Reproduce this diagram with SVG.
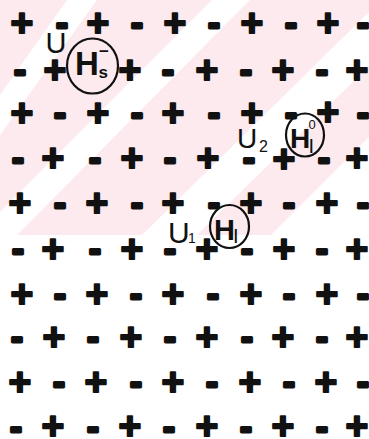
<svg xmlns="http://www.w3.org/2000/svg" width="369" height="439" viewBox="0 0 369 439">
<style>
  .bg { fill: #fdeaee; }
  .wb { fill: #ffffff; }
  .p, .m { font-family: "Liberation Sans", Arial, sans-serif; font-weight: bold; text-anchor: middle; fill: #111; stroke: #111; stroke-linejoin: round; }
  .p { font-size: 39px; stroke-width: 2px; }
  .m { font-size: 36px; stroke-width: 3px; }
  .ring { fill: none; stroke: #111; stroke-width: 2.2; }
  .hb { font-family: "Liberation Sans", Arial, sans-serif; font-weight: bold; fill: #111; }
  .lb { font-family: "Liberation Sans", Arial, sans-serif; fill: #111; }
</style>
<rect width="369" height="439" fill="#ffffff"/>
<g id="background">
  <polygon class="bg" points="0,0 369,0 369,137 271,235 0,235"/>
  <polygon class="wb" points="67,0 97,0 0,135 0,95"/>
  <polygon class="wb" points="212,0 250,0 17,235 0,235 0,212"/>
  <polygon class="wb" points="369,12 369,66 197,235 142,235"/>
</g>
<g id="charges">
  <!-- row 1 (Y=22) -->
  <text class="p" x="22" y="36">+</text><text class="m" x="62" y="34.5">-</text><text class="p" x="98" y="36">+</text><text class="m" x="137" y="34.5">-</text><text class="p" x="175" y="36">+</text><text class="m" x="214" y="34.5">-</text><text class="p" x="252" y="36">+</text><text class="m" x="291" y="34.5">-</text><text class="p" x="328" y="36">+</text><text class="m" x="363" y="34.5">-</text>
  <!-- row 2 (Y=69) -->
  <text class="m" x="20" y="81.5">-</text><text class="p" x="55" y="83">+</text><text class="p" x="130" y="83">+</text><text class="m" x="168" y="81.5">-</text><text class="p" x="207" y="83">+</text><text class="m" x="246" y="81.5">-</text><text class="p" x="283" y="83">+</text><text class="m" x="322" y="81.5">-</text><text class="p" x="357" y="83">+</text>
  <!-- row 3 (Y=112) -->
  <text class="p" x="22" y="126">+</text><text class="m" x="60" y="124.5">-</text><text class="p" x="98" y="126">+</text><text class="m" x="137" y="124.5">-</text><text class="p" x="173" y="126">+</text><text class="m" x="214" y="124.5">-</text><text class="p" x="252" y="126">+</text><text class="m" x="291" y="124.5">-</text><text class="p" x="328" y="125">+</text><text class="m" x="363" y="124.5">-</text>
  <!-- row 4 (Y=157) -->
  <text class="m" x="18" y="169.5">-</text><text class="p" x="53" y="171">+</text><text class="m" x="95" y="169.5">-</text><text class="p" x="132" y="171">+</text><text class="m" x="170" y="169.5">-</text><text class="p" x="208" y="171">+</text><text class="m" x="249" y="169.5">-</text><text class="p" x="284" y="172">+</text><text class="m" x="324" y="169.5">-</text><text class="p" x="357" y="171">+</text>
  <!-- row 5 (Y=202) -->
  <text class="p" x="20" y="216">+</text><text class="m" x="60" y="214.5">-</text><text class="p" x="97" y="216">+</text><text class="m" x="137" y="214.5">-</text><text class="p" x="173" y="216">+</text><text class="m" x="214" y="214.5">-</text><text class="p" x="251" y="216">+</text><text class="m" x="289" y="214.5">-</text><text class="p" x="327" y="216">+</text><text class="m" x="363" y="214.5">-</text>
  <!-- row 6 (Y=248) -->
  <text class="m" x="18" y="260.5">-</text><text class="p" x="53" y="262">+</text><text class="m" x="95" y="260.5">-</text><text class="p" x="132" y="262">+</text><text class="m" x="170" y="260.5">-</text><text class="p" x="207" y="262">+</text><text class="m" x="247" y="260.5">-</text><text class="p" x="284" y="262">+</text><text class="m" x="322" y="260.5">-</text><text class="p" x="357" y="262">+</text>
  <!-- row 7 (Y=293) -->
  <text class="p" x="22" y="307">+</text><text class="m" x="60" y="305.5">-</text><text class="p" x="97" y="307">+</text><text class="m" x="136" y="305.5">-</text><text class="p" x="173" y="307">+</text><text class="m" x="213" y="305.5">-</text><text class="p" x="251" y="307">+</text><text class="m" x="289" y="305.5">-</text><text class="p" x="327" y="307">+</text><text class="m" x="363" y="305.5">-</text>
  <!-- row 8 (Y=336) -->
  <text class="m" x="17" y="348.5">-</text><text class="p" x="54" y="350">+</text><text class="m" x="93" y="348.5">-</text><text class="p" x="131" y="350">+</text><text class="m" x="170" y="348.5">-</text><text class="p" x="207" y="350">+</text><text class="m" x="247" y="348.5">-</text><text class="p" x="283" y="350">+</text><text class="m" x="322" y="348.5">-</text><text class="p" x="357" y="350">+</text>
  <!-- row 9 (Y=381) -->
  <text class="p" x="20" y="395">+</text><text class="m" x="59" y="393.5">-</text><text class="p" x="96" y="395">+</text><text class="m" x="136" y="393.5">-</text><text class="p" x="173" y="395">+</text><text class="m" x="212" y="393.5">-</text><text class="p" x="250" y="395">+</text><text class="m" x="289" y="393.5">-</text><text class="p" x="326" y="395">+</text><text class="m" x="363" y="393.5">-</text>
  <!-- row 10 (Y=426) -->
  <text class="m" x="16" y="438.5">-</text><text class="p" x="53" y="439">+</text><text class="m" x="93" y="438.5">-</text><text class="p" x="130" y="439">+</text><text class="m" x="169" y="438.5">-</text><text class="p" x="207" y="439">+</text><text class="m" x="246" y="438.5">-</text><text class="p" x="283" y="439">+</text><text class="m" x="322" y="438.5">-</text><text class="p" x="357" y="439">+</text>
</g>
<g id="connectors"></g>
<g id="node-Hs">
  <ellipse class="ring" cx="92.5" cy="66" rx="25.5" ry="27.5"/>
  <text class="hb" x="75" y="75" font-size="33">H</text>
  <text class="hb" x="98.5" y="78" font-size="17">s</text>
  <text class="hb" x="104" y="57" font-size="17" text-anchor="middle">−</text>
</g>
<g id="node-HI0">
  <ellipse class="ring" cx="305" cy="135" rx="19" ry="21.5"/>
  <text class="hb" x="290" y="148" font-size="28">H</text>
  <text class="lb" x="308.5" y="153" font-size="20">I</text>
  <text class="lb" x="312" y="129" font-size="13" text-anchor="middle">0</text>
</g>
<g id="node-HI">
  <ellipse class="ring" cx="229.5" cy="226.5" rx="19.5" ry="21.5"/>
  <text class="hb" x="214" y="240" font-size="29">H</text>
  <text class="lb" x="233" y="243" font-size="20">I</text>
</g>
<g id="label-U">
  <text class="lb" x="45.5" y="53" font-size="29">U</text>
</g>
<g id="label-U2">
  <text class="lb" x="237" y="148" font-size="28">U</text>
  <text class="lb" x="259" y="152" font-size="16">2</text>
</g>
<g id="label-U1">
  <text class="lb" x="168" y="243" font-size="30">U</text>
  <text class="lb" x="188" y="243" font-size="14">1</text>
</g>
</svg>
